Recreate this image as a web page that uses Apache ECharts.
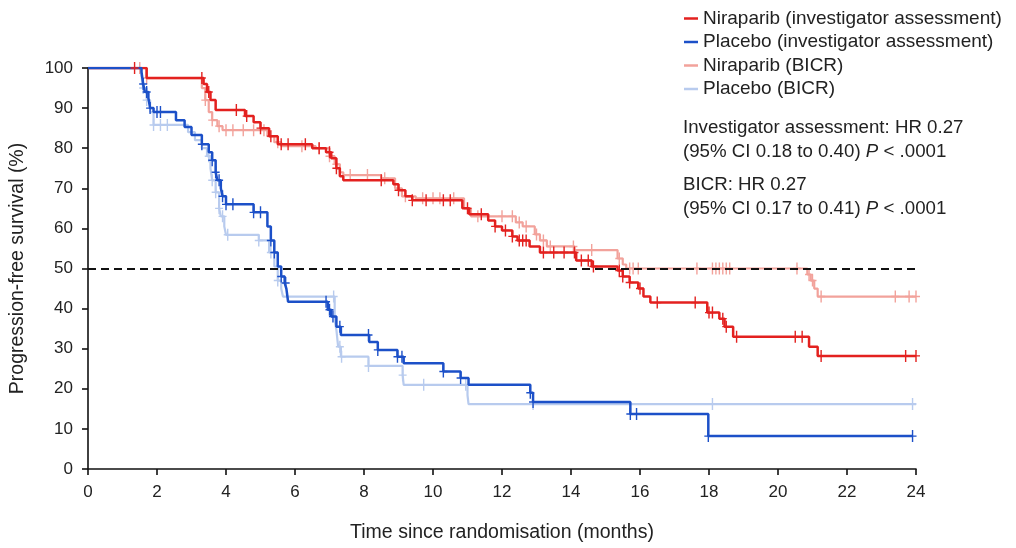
<!DOCTYPE html>
<html>
<head>
<meta charset="utf-8">
<script src="https://cdn.jsdelivr.net/npm/echarts@6/dist/echarts.min.js"></script>
<style>
  html, body { margin: 0; padding: 0; background: #fff; }
  #main { width: 1016px; height: 548px; }
</style>
</head>
<body>
<div id="main"></div>
<script>
// KM curves: [month, PFS %] at each drop; last point = end of follow-up
var nirInvSteps = [[0,100],[1.7,97.5],[3.35,96],[3.45,94],[3.55,92],[3.7,89.5],[4.55,88],[4.8,86.5],[5.0,85],[5.25,83],[5.5,81],[6.5,80],[6.9,79],[7.05,77.5],[7.2,75],[7.3,73],[7.4,72],[8.85,71],[9.0,69.5],[9.2,68],[9.4,67],[10.85,65],[11.05,63.5],[11.6,62],[11.8,60.5],[12.0,59.5],[12.3,58],[12.45,57],[12.8,55.5],[13.1,54],[14.15,52],[14.6,50.5],[15.35,49.5],[15.5,48],[15.7,46.5],[15.95,45],[16.1,43],[16.3,41.5],[17.95,39],[18.3,37.5],[18.45,35.5],[18.7,33],[20.9,30.5],[21.15,28.2],[24,28.2]];
var nirInvCensor = [1.35,3.3,3.5,4.3,4.6,5.0,5.3,5.6,5.8,6.3,6.7,7.0,7.2,8.5,9.0,9.4,9.8,10.3,10.5,11.0,11.4,11.8,12.1,12.3,12.5,12.6,12.7,13.2,13.5,13.8,14.1,14.3,14.5,14.65,15.4,15.5,15.7,16.0,16.5,17.6,18.0,18.1,18.4,18.5,18.8,20.5,20.7,21.25,23.7,24.0];

var plaInvSteps = [[0,100],[1.55,99],[1.6,96],[1.65,94],[1.75,92.5],[1.8,90],[1.9,89],[2.55,87],[2.8,85.3],[3.0,83.3],[3.3,81],[3.5,79],[3.6,77],[3.7,74],[3.75,72],[3.85,70],[3.9,68],[4.0,66],[4.8,64],[5.2,60.5],[5.3,57],[5.4,54],[5.5,50.5],[5.6,48],[5.7,46.4],[5.75,45],[5.8,41.7],[6.95,39.7],[7.05,38],[7.2,35.5],[7.33,33.4],[8.15,31.7],[8.4,29.7],[8.97,28],[9.15,26.4],[10.3,24.3],[10.8,22.7],[11.03,21],[12.82,19],[12.9,16.7],[15.72,13.7],[17.98,8.2],[23.9,8.2]];
var plaInvCensor = [1.6,1.7,1.8,2.0,2.1,3.3,3.6,3.7,3.8,3.9,4.0,4.2,4.8,5.0,5.3,5.4,5.6,5.73,6.9,7.0,7.1,7.3,8.13,8.4,8.97,9.1,10.3,10.8,12.82,12.9,15.72,15.9,17.98,23.9];

var nirBicrSteps = [[0,100],[1.7,97.5],[3.3,95],[3.4,92],[3.5,89],[3.6,87],[3.75,85.5],[3.9,84.5],[5.2,83],[5.4,81.5],[5.6,80.5],[6.6,80],[7.0,78],[7.15,76],[7.3,74],[7.4,73.3],[8.5,72.5],[8.9,70],[9.1,68],[9.5,67.5],[10.9,65],[11.1,63],[12.4,61.5],[12.6,60.5],[12.95,58.5],[13.1,57],[13.3,55.5],[14.1,54.6],[15.35,52.5],[15.5,51],[15.6,50],[20.85,48.5],[20.95,47],[21.05,45],[21.15,43],[24,43]];
var nirBicrCensor = [1.5,1.7,3.4,3.6,3.8,4.0,4.2,4.5,4.8,5.1,5.5,6.2,6.7,7.0,7.2,7.6,8.1,8.6,9.2,9.7,10.0,10.2,10.6,11.3,12.0,12.3,12.5,12.7,13.0,13.2,13.4,14.07,14.6,15.4,15.7,15.8,15.95,17.65,18.1,18.2,18.3,18.4,18.5,18.6,20.55,20.9,21.0,21.25,23.4,23.8,24.0];

var plaBicrSteps = [[0,100],[1.55,98],[1.6,95],[1.7,92],[1.8,89],[1.9,85.8],[2.9,84],[3.1,82],[3.3,80],[3.45,78],[3.55,75],[3.6,72],[3.7,69],[3.8,65],[3.85,63],[3.95,60.5],[4.0,58.4],[4.95,57],[5.25,54],[5.4,50.5],[5.5,47],[5.6,45],[5.65,43],[7.15,37],[7.2,34.7],[7.25,30.5],[7.33,28],[8.13,25.7],[9.12,23.4],[9.15,21],[11.0,18.4],[11.03,16.2],[24,16.2]];
var plaBicrCensor = [1.6,1.7,1.9,2.1,2.3,3.5,3.6,3.7,3.8,3.9,4.05,4.95,5.3,5.5,7.12,7.3,7.35,8.13,9.12,9.73,10.95,12.9,18.1,23.9];

var seriesNames = ['Niraparib (investigator assessment)', 'Placebo (investigator assessment)', 'Niraparib (BICR)', 'Placebo (BICR)'];
var seriesColors = ['#e3211f', '#1c50c8', '#f2a29b', '#b8cbee'];

var xTicks = [0, 24, 2];   // min, max, interval
var yTicks = [0, 100, 10];

var FONT = '"Liberation Sans", Arial, sans-serif';
var cross = 'path://M-0.7,-6H0.7V-0.7H4V0.7H0.7V6H-0.7V0.7H-4V-0.7H-0.7Z';

function survAt(steps, t) {
    var s = steps[0][1];
    for (var i = 0; i < steps.length; i++) {
        if (steps[i][0] <= t) s = steps[i][1];
        else break;
    }
    return s;
}

function kmLine(name, steps, color, width, z) {
    return {
        name: name,
        type: 'line',
        step: 'end',
        data: steps,
        symbol: 'none',
        z: z,
        lineStyle: { color: color, width: width },
        itemStyle: { color: color },
        silent: true
    };
}

function censorMarks(name, steps, times, color, z) {
    return {
        name: name,
        type: 'scatter',
        data: times.map(function (t) { return [t, survAt(steps, t)]; }),
        symbol: cross,
        symbolSize: [8, 12],
        z: z,
        itemStyle: { color: color, opacity: 1 },
        silent: true
    };
}

var myChart = echarts.init(document.getElementById('main'));

var series = [
    kmLine(seriesNames[2], nirBicrSteps, seriesColors[2], 2.2, 2),
    censorMarks('nirBicrC', nirBicrSteps, nirBicrCensor, seriesColors[2], 2),
    kmLine(seriesNames[3], plaBicrSteps, seriesColors[3], 2.2, 2),
    censorMarks('plaBicrC', plaBicrSteps, plaBicrCensor, seriesColors[3], 2),
    kmLine(seriesNames[0], nirInvSteps, seriesColors[0], 2.5, 3),
    censorMarks('nirInvC', nirInvSteps, nirInvCensor, seriesColors[0], 3),
    kmLine(seriesNames[1], plaInvSteps, seriesColors[1], 2.5, 3),
    censorMarks('plaInvC', plaInvSteps, plaInvCensor, seriesColors[1], 3)
];

// median line at 50%
series[4].markLine = {
    silent: true,
    symbol: 'none',
    label: { show: false },
    lineStyle: { color: '#111', width: 2, type: [8, 5] },
    data: [{ yAxis: 50 }]
};

var option = {
    backgroundColor: '#fff',
    animation: false,
    textStyle: { fontFamily: FONT },
    grid: { left: 87, right: 100, top: 68, bottom: 79, containLabel: false },
    legend: {
        data: seriesNames,
        orient: 'vertical',
        left: 679,
        top: 4,
        icon: 'rect',
        itemWidth: 14,
        itemHeight: 2.5,
        itemGap: 4.5,
        selectedMode: false,
        textStyle: { fontSize: 19, color: '#222', fontFamily: FONT, lineHeight: 19 }
    },
    xAxis: {
        type: 'value',
        min: xTicks[0],
        max: xTicks[1],
        interval: xTicks[2],
        name: 'Time since randomisation (months)',
        nameLocation: 'middle',
        nameGap: 54,
        nameTextStyle: { fontSize: 19.5, color: '#222', fontFamily: FONT },
        axisLine: { onZero: false, lineStyle: { color: '#111', width: 1.6 } },
        axisTick: { length: 6, lineStyle: { color: '#111', width: 1.6 } },
        axisLabel: { margin: 15, fontSize: 17, color: '#222', fontFamily: FONT },
        splitLine: { show: false }
    },
    yAxis: {
        type: 'value',
        min: yTicks[0],
        max: yTicks[1],
        interval: yTicks[2],
        name: 'Progression-free survival (%)',
        nameLocation: 'middle',
        nameGap: 60,
        nameRotate: 90,
        nameTextStyle: { fontSize: 19.5, color: '#222', fontFamily: FONT },
        axisLine: { show: true, onZero: false, lineStyle: { color: '#111', width: 1.6 } },
        axisTick: { show: true, length: 6, lineStyle: { color: '#111', width: 1.6 } },
        axisLabel: { margin: 15, fontSize: 17, color: '#222', fontFamily: FONT },
        splitLine: { show: false }
    },
    graphic: [
        {
            type: 'text',
            left: 683,
            top: 116,
            style: {
                text: 'Investigator assessment: HR 0.27\n(95% CI 0.18 to 0.40) {i|P} < .0001',
                font: '18.7px ' + FONT,
                fill: '#222',
                lineHeight: 24,
                rich: { i: { fontStyle: 'italic', fontSize: 18.7, fill: '#222', fontFamily: FONT } }
            }
        },
        {
            type: 'text',
            left: 683,
            top: 173,
            style: {
                text: 'BICR: HR 0.27\n(95% CI 0.17 to 0.41) {i|P} < .0001',
                font: '18.7px ' + FONT,
                fill: '#222',
                lineHeight: 24,
                rich: { i: { fontStyle: 'italic', fontSize: 18.7, fill: '#222', fontFamily: FONT } }
            }
        }
    ],
    series: series
};

myChart.setOption(option);
</script>
</body>
</html>
